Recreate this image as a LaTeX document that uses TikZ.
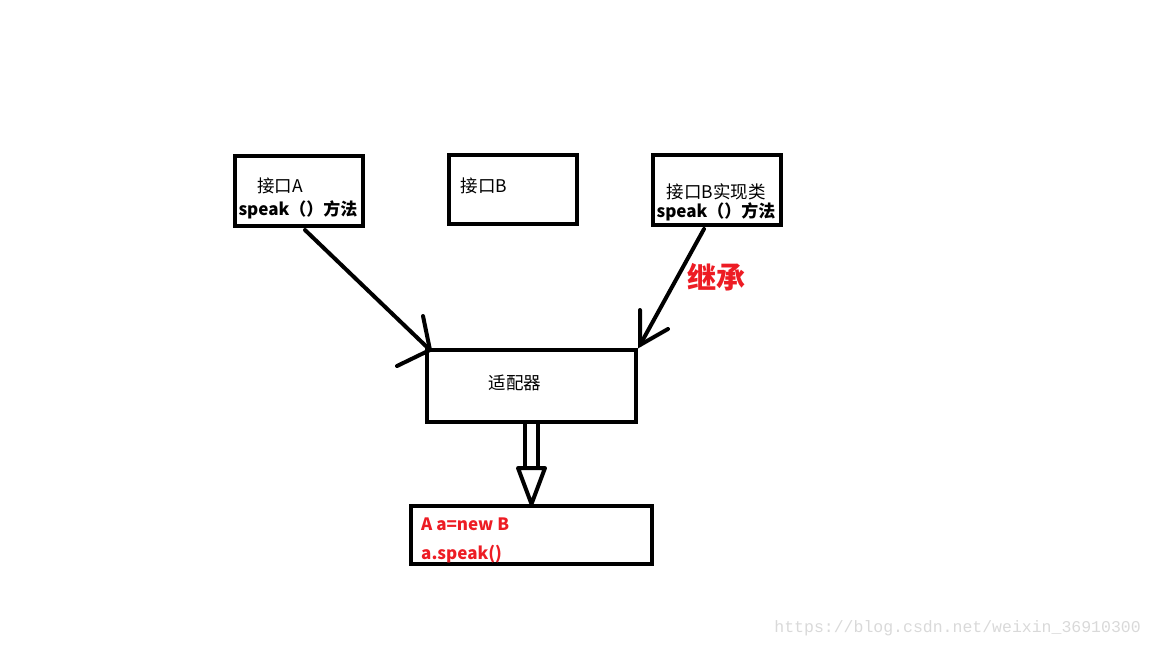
\documentclass[tikz,border=0pt]{standalone}
\usepackage{fontspec}
\usetikzlibrary{calc}
\setmainfont{Noto Sans CJK SC}
\newfontfamily\wmfont{Liberation Mono}
\definecolor{redtxt}{HTML}{ED1C24}
\definecolor{wm}{HTML}{D9D9D9}
\begin{document}
\begin{tikzpicture}[x=1pt,y=-1pt,
  box/.style={draw=black,line width=4pt,rectangle,inner sep=0pt},
  thick line/.style={line width=4pt,line cap=round},
  txt/.style={inner sep=0pt,font=\fontsize{17.5}{19}\selectfont},
  btxt/.style={inner sep=0pt,font=\fontsize{17}{19}\selectfont\bfseries}]
\useasboundingbox (0,0) rectangle (1152,648);
% boxes
\node[box,minimum width=128pt,minimum height=70pt] (A) at (299,191) {};
\node[box,minimum width=128pt,minimum height=69pt] (B) at (513,189) {};
\node[box,minimum width=128pt,minimum height=70pt] (C) at (717,190) {};
\node[box,minimum width=209pt,minimum height=72pt] (D) at (531.5,386) {};
\node[box,minimum width=241pt,minimum height=58pt] (E) at (531.5,535) {};
% texts
\node[txt] (tA) at (280,186) {接口A};
\node[btxt] (sA) at (298,210) {speak（）方法};
\node[txt] (tB) at (484,186) {接口B};
\node[txt] (tC) at (716,192) {接口B实现类};
\node[btxt] (sC) at (716,212) {speak（）方法};
\node[inner sep=0pt,text=redtxt,font=\fontsize{29}{31}\selectfont\bfseries] (inh) at (716,277) {继承};
\node[txt] (tD) at (515,383) {适配器};
\node[btxt,text=redtxt,anchor=west] (e1) at (421,524) {A a=new B};
\node[btxt,text=redtxt,anchor=west] (e2) at (421,554) {a.speak()};
\node[inner sep=0pt,text=wm,anchor=east,font=\wmfont\fontsize{16.5}{18}\selectfont] (wmk) at (1141,628) {https://blog.csdn.net/weixin\_36910300};
% arrow A -> adapter
\coordinate (a0) at ($(A.south)+(6,2)$);
\coordinate (a1) at (430,350);
\coordinate (ah1) at (423,316);
\coordinate (ah2) at (397,366);
\draw[thick line] (a0) -- (a1);
\draw[thick line] (ah1) -- (a1) -- (ah2);
% arrow C -> adapter
\coordinate (c0) at ($(C.south)+(-13,2)$);
\coordinate (c1) at (640,345);
\coordinate (ch1) at (640,310);
\coordinate (ch2) at (668,329);
\draw[thick line] (c0) -- (c1);
\draw[thick line] (ch1) -- (c1) -- (ch2);
% hollow arrow adapter -> E
\coordinate (s1) at (524.5,424);
\coordinate (s2) at (537.5,424);
\draw[line width=4pt] (s1) -- (524.5,468) (s2) -- (537.5,468);
\draw[line width=4pt,line join=round] (518,468) -- (545,468) -- (531.5,504) -- cycle;
\end{tikzpicture}
\end{document}
